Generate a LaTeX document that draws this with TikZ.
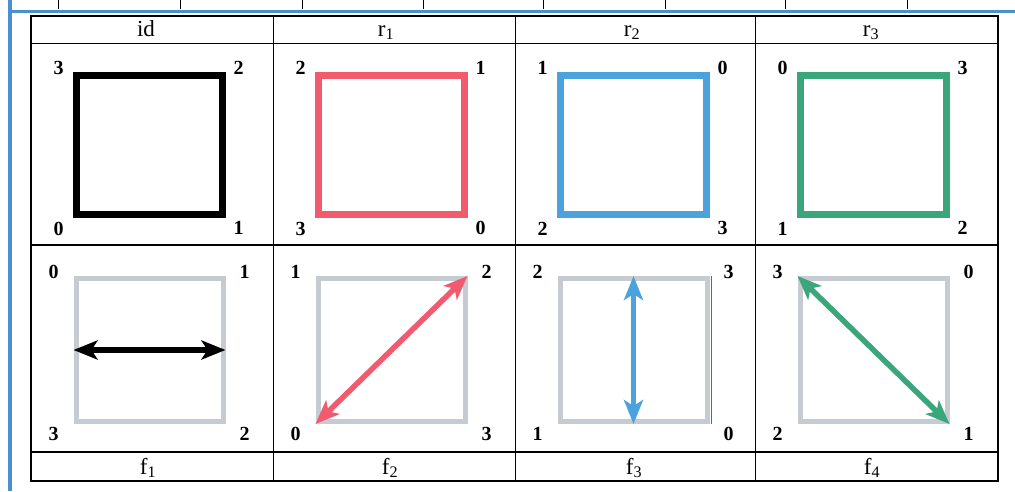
\documentclass[tikz,border=0pt]{standalone}
\usepackage{fontspec}
\usepackage{xcolor}
\usepackage{tikz}
\usetikzlibrary{arrows.meta}
\setmainfont{Liberation Serif}

\definecolor{symred}{HTML}{F25A6E}
\definecolor{symblue}{HTML}{4BA2DD}
\definecolor{symgreen}{HTML}{3BA57C}
\definecolor{symgray}{HTML}{C5CBD1}
\definecolor{scanblue}{HTML}{4A8FD0}

\begin{document}
\begin{tikzpicture}[x=1pt, y=-1pt,
    frame/.style={line width=2.5pt},
    rule/.style={line width=0.9pt},
    side/.style={line width=7pt, inner sep=0pt, minimum width=146pt, minimum height=138.5pt},
    ghost/.style={line width=5pt, draw=symgray, inner sep=0pt, minimum width=147pt, minimum height=143pt},
    flip/.style={line width=5.5pt, {Stealth[length=24pt,width=19pt,inset=6pt]}-{Stealth[length=24pt,width=19pt,inset=6pt]}},
    corner/.style={font=\fontsize{20}{20}\selectfont\bfseries, inner sep=0pt},
    head/.style={font=\fontsize{23}{23}\selectfont, inner sep=0pt, anchor=base}]
    \useasboundingbox (0,0) rectangle (1015,491);

    % edge of the scanned page
    \draw[scanblue, line width=3.5pt] (10,0) -- (10,491);
    \draw[scanblue, line width=3pt] (10,11) -- (1015,11);
    \foreach \x in {58,180,302,423,543,665,785,907}
        \draw[rule] (\x,0) -- (\x,9);

    % table
    \foreach \x in {273,515,755}
        \draw[rule] (\x,16) -- (\x,481);
    \draw[rule] (31,43) -- (998,43);
    \draw[line width=2pt] (31,245) -- (998,245);
    \draw[line width=1.5pt] (31,452) -- (998,452);
    \draw[frame] (31,16) rectangle (998,481);

    % rotations
    \foreach \x/\h/\hx/\col/\a/\b/\c/\d in {31/{id}/146/black/3/2/0/1,
        273/{r\textsubscript{1}}/386/symred/2/1/3/0, 515/{r\textsubscript{2}}/632/symblue/1/0/2/3,
        755/{r\textsubscript{3}}/871/symgreen/0/3/1/2} {
        \node[head] (h\x) at (\hx,36) {\h};
        \node[side, draw=\col] (t\x) at ({\x+118},144.75) {};
        \node[corner] (t\x nw) at ([shift={(-14,-4)}]t\x.north west) {\a};
        \node[corner] (t\x ne) at ([shift={(13,-4)}]t\x.north east) {\b};
        \node[corner] (t\x sw) at ([shift={(-14,11)}]t\x.south west) {\c};
        \node[corner] (t\x se) at ([shift={(13,10)}]t\x.south east) {\d};
    }

    % flips
    \foreach \x/\h/\hx/\col/\a/\b/\c/\d/\p/\q in {31/{f\textsubscript{1}}/148/black/0/1/3/2/west/east,
        273/{f\textsubscript{2}}/390/symred/1/2/0/3/south west/north east,
        515/{f\textsubscript{3}}/634/symblue/2/3/1/0/north/south,
        755/{f\textsubscript{4}}/872/symgreen/3/0/2/1/north west/south east} {
        \node[head] (g\x) at (\hx,474) {\h};
        \node[ghost] (b\x) at ({\x+118.5},350) {};
        \node[corner] (b\x nw) at ([shift={(-20,-4)}]b\x.north west) {\a};
        \node[corner] (b\x ne) at ([shift={(19,-4)}]b\x.north east) {\b};
        \node[corner] (b\x sw) at ([shift={(-20,10)}]b\x.south west) {\c};
        \node[corner] (b\x se) at ([shift={(19,10)}]b\x.south east) {\d};
        \draw[flip, \col] (b\x.\p) -- (b\x.\q);
    }
    \draw[line width=0.8pt, black!60] ([xshift=2pt]b515.north east) -- ([xshift=2pt]b515.south east);
\end{tikzpicture}
\end{document}
